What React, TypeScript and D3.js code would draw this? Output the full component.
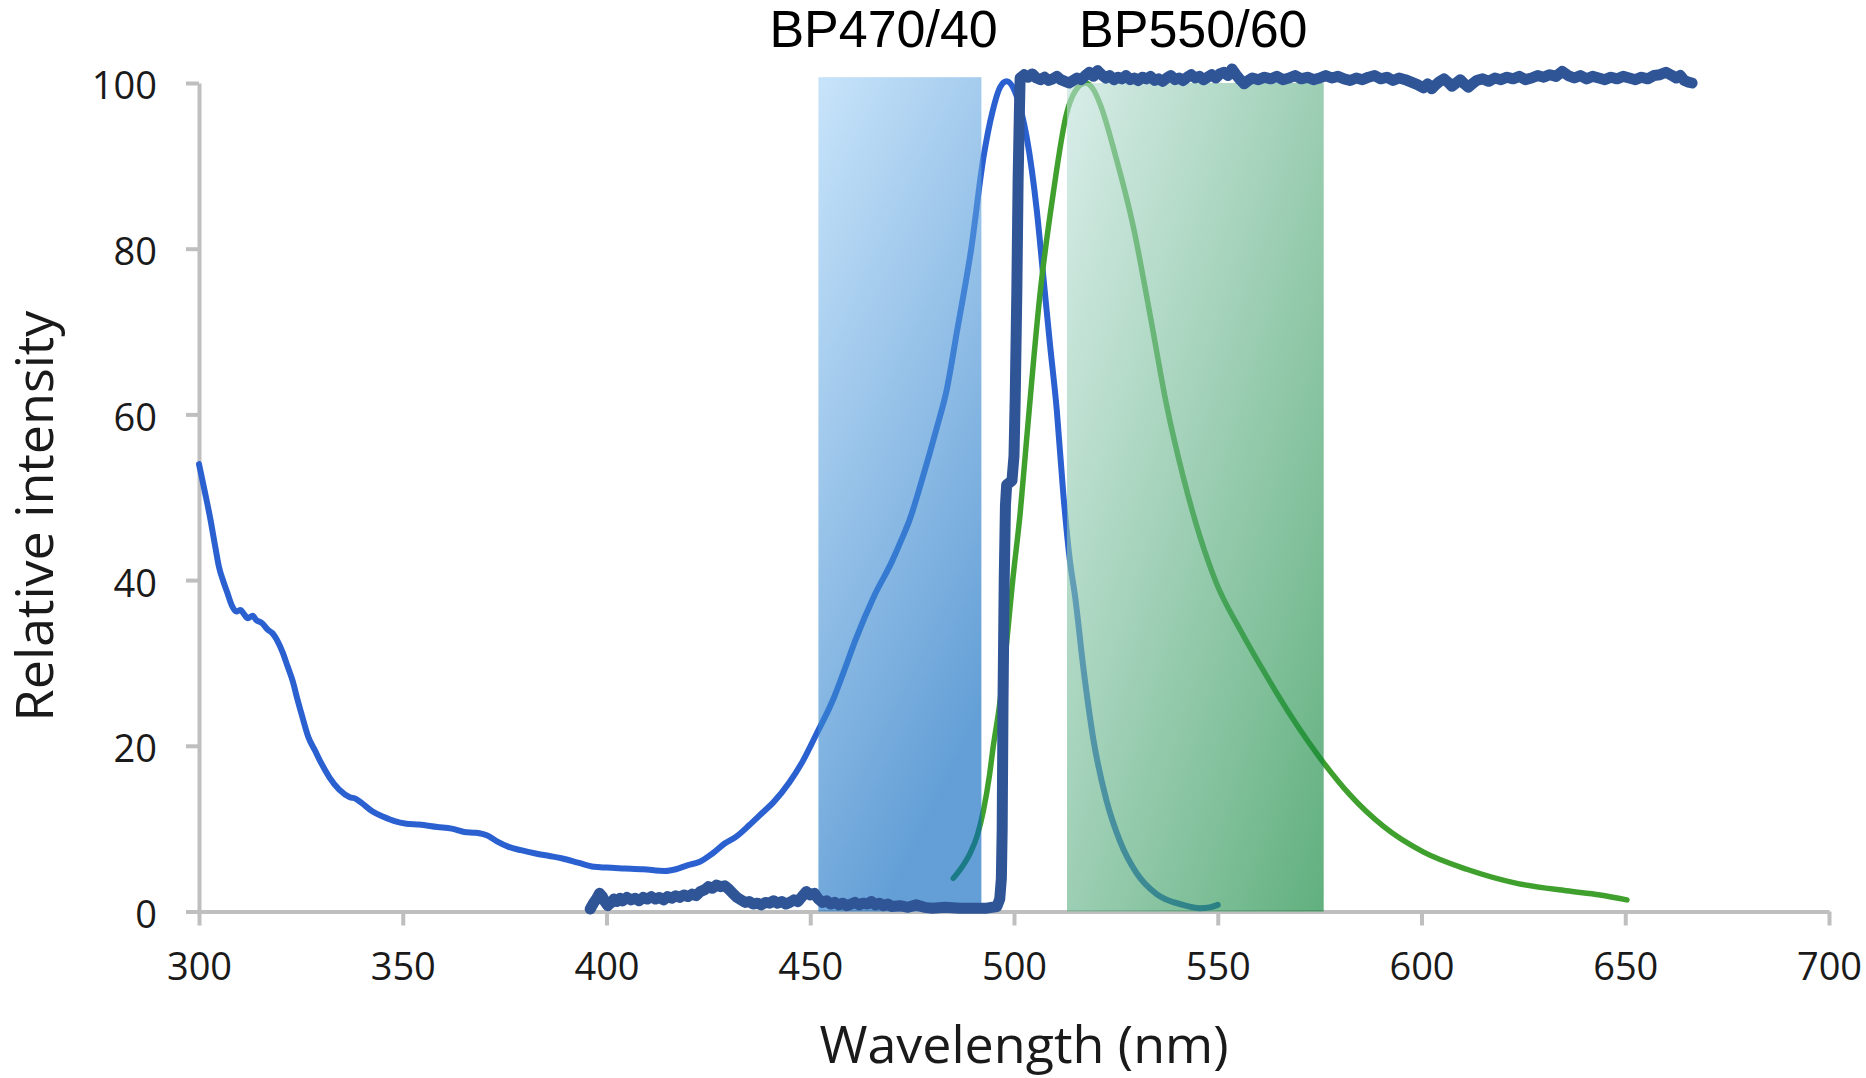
import { useEffect, useRef } from 'react';
import * as d3 from 'd3';

const X_TICKS = [300, 350, 400, 450, 500, 550, 600, 650, 700];
const Y_TICKS = [0, 20, 40, 60, 80, 100];

// excitation spectrum
const EXC_NM = [300, 301.5, 302.7, 304, 304.9, 306, 307, 308, 309.2, 310.2, 310.9, 312, 313.2, 314, 315.5, 316.9, 318, 319.1, 320.5, 321.8, 323, 324, 325.3, 326.8, 328.5, 330, 332, 334.4, 337, 338.5, 339.9, 342.5, 345.4, 348, 350.9, 354, 358.5, 362, 365.1, 368, 370.6, 373, 376, 379, 382.6, 386, 389.2, 393, 396.9, 400, 404.5, 409, 414.4, 417, 420, 422.9, 426, 429, 432, 435, 438, 441, 444.9, 448, 451.4, 455.8, 458.5, 461.2, 465.6, 470, 472.5, 474.4, 477.6, 481, 483.5, 486, 489.5, 492.5, 494.7, 496.6, 498.2, 500.2, 501.8, 503.1, 505.6, 507.2, 508.8, 510.5, 512.1, 513.7, 515, 517, 519.5, 522.7, 526, 530, 535, 541.5, 545.6, 548, 550];
const EXC_VAL = [54.0, 50.5, 47.6, 44.0, 41.6, 39.8, 38.4, 37.0, 36.2, 36.4, 36.0, 35.4, 35.7, 35.2, 34.8, 34.0, 33.6, 32.8, 31.3, 29.5, 27.8, 25.9, 23.6, 21.1, 19.4, 17.9, 16.2, 14.7, 13.8, 13.6, 13.1, 12.1, 11.4, 10.9, 10.6, 10.5, 10.2, 10.0, 9.6, 9.5, 9.2, 8.5, 7.8, 7.4, 7.0, 6.7, 6.4, 5.9, 5.4, 5.3, 5.2, 5.1, 4.9, 5.1, 5.6, 6.0, 7.0, 8.2, 9.1, 10.4, 11.8, 13.2, 15.6, 18.0, 21.3, 25.8, 29.3, 32.9, 38.0, 42.2, 45.0, 47.3, 52.4, 58.3, 63.0, 70.0, 80.0, 91.0, 96.5, 99.5, 100.2, 99.0, 96.5, 93.5, 84.6, 76.6, 68.6, 60.5, 50.4, 42.4, 38.0, 29.5, 20.7, 13.4, 8.5, 4.7, 2.1, 0.8, 0.4, 0.5, 0.8];

// emission spectrum
const EMI_NM = [485.1, 487, 489.2, 491, 492.5, 494, 494.9, 496.2, 497.4, 499.8, 501.5, 503.1, 506.4, 509.6, 512.9, 515, 517.5, 519.5, 521.1, 525.2, 529.3, 533.4, 537.5, 541.5, 545.6, 549.7, 555.5, 562, 568.5, 575.9, 582.4, 590.6, 600.4, 611.1, 623.4, 635.6, 643.8, 650.4];
const EMI_VAL = [4.0, 5.2, 7.0, 9.2, 12.2, 16.5, 19.9, 24.0, 28.7, 40.5, 48.0, 57.0, 74.6, 86.6, 96.3, 99.0, 100.0, 99.2, 97.5, 90.7, 82.6, 72.0, 61.0, 52.5, 45.3, 39.6, 34.0, 28.4, 23.2, 18.0, 14.1, 10.3, 7.2, 5.1, 3.4, 2.5, 2.0, 1.4];

// dichroic transmission
const TRANS_NM = [396, 396.8, 397.5, 398.3, 399, 399.6, 400.3, 401, 401.8, 402.5, 403.3, 404, 405, 406, 407, 408, 409, 410, 411, 412, 413, 414, 415, 416, 417, 418, 419, 420, 421, 422, 423, 424, 425, 426, 427, 428, 429, 430, 431, 432, 433, 434, 435, 436, 437, 438, 439, 440, 441, 442, 443, 444, 445, 446, 447, 448, 449, 450, 451, 452, 453, 454, 455, 456, 457, 458, 459, 460, 461, 462, 463, 464, 465, 466, 467, 468, 469, 470, 472, 474, 476, 478, 480, 483, 486.7, 490, 493.3, 495.8, 496.5, 496.9, 497.1, 497.3, 497.6, 497.9, 498.2, 499.5, 500.0, 500.3, 500.7, 501.0, 501.3, 501.5, 502.5, 503.5, 504.5, 505.5, 506.5, 507.5, 508.5, 509.5, 510.5, 511.5, 512.5, 513.5, 514.5, 515.5, 516.5, 517.5, 518.5, 519.5, 520.5, 521.5, 522.5, 523.5, 524.5, 525.5, 526.5, 527.5, 528.5, 529.5, 530.5, 531.5, 532.5, 533.5, 534.5, 535.5, 536.5, 537.5, 538.5, 539.5, 540.5, 541.5, 542.5, 543.5, 544.5, 545.5, 546.5, 547.5, 548.5, 549.5, 550.5, 551.5, 552.5, 553.5, 554.5, 555.5, 556.5, 557.5, 558.5, 560, 561.5, 563, 564.5, 566, 567.5, 569, 570.5, 572, 573.5, 575, 576.5, 578, 579.5, 581, 582.5, 584, 585.5, 587, 588.5, 590, 591.5, 593, 594.5, 596, 597.5, 599, 600.5, 601.5, 602.5, 603.5, 604.5, 605.5, 606.5, 607.5, 608.5, 609.5, 610.5, 611.5, 612.5, 613.5, 615, 616.5, 618, 619.5, 621, 622.5, 624, 625.5, 627, 628.5, 630, 631.5, 633, 634.5, 636, 637.5, 639, 640.5, 642, 643.5, 645, 646.5, 648, 649.5, 651, 652.5, 654, 655.5, 657, 658.5, 660, 661.5, 662.5, 663.5, 664.5, 665.5, 666.4];
const TRANS_VAL = [0.3, 1.0, 1.5, 2.2, 1.8, 1.2, 0.7, 1.0, 1.5, 1.2, 1.6, 1.3, 1.7, 1.4, 1.6, 1.3, 1.7, 1.5, 1.8, 1.5, 1.7, 1.4, 1.8, 1.6, 1.9, 1.7, 2.0, 1.8, 2.1, 1.9, 2.4, 2.6, 3.0, 2.8, 3.2, 3.0, 3.1, 2.7, 2.2, 1.7, 1.4, 1.1, 1.2, 0.9, 1.0, 0.8, 1.1, 1.0, 1.3, 1.0, 1.2, 0.9, 1.1, 1.4, 1.2, 1.8, 2.4, 2.0, 2.2, 1.5, 1.1, 1.3, 0.9, 1.1, 0.8, 1.0, 0.7, 0.9, 1.1, 0.8, 1.0, 0.9, 1.2, 0.8, 1.0, 0.7, 0.9, 0.6, 0.7, 0.5, 0.8, 0.5, 0.4, 0.5, 0.4, 0.4, 0.4, 0.6, 1.5, 4.0, 10.0, 25.0, 40.0, 49.0, 51.5, 52.0, 55.0, 62.0, 75.0, 88.0, 96.0, 100.6, 101.0, 100.7, 101.1, 100.6, 100.4, 100.7, 100.3, 100.5, 100.8, 100.4, 100.2, 100.0, 100.3, 100.6, 100.4, 100.9, 101.3, 100.8, 101.5, 101.0, 100.6, 100.9, 100.4, 100.7, 100.5, 100.9, 100.4, 100.6, 100.3, 100.7, 100.5, 100.8, 100.3, 100.5, 100.2, 100.6, 100.9, 100.4, 100.6, 100.3, 100.7, 101.0, 100.6, 100.8, 100.4, 100.7, 101.0, 100.6, 101.1, 101.3, 100.9, 101.7, 101.0, 100.4, 99.9, 100.3, 100.6, 100.4, 100.7, 100.5, 100.8, 100.4, 100.6, 100.9, 100.5, 100.7, 100.4, 100.6, 100.9, 100.6, 100.8, 100.5, 100.3, 100.6, 100.4, 100.7, 100.9, 100.5, 100.7, 100.3, 100.6, 100.4, 100.1, 99.8, 99.4, 99.9, 99.3, 99.8, 100.2, 100.5, 100.1, 99.6, 100.0, 100.4, 99.9, 99.5, 99.9, 100.3, 100.5, 100.2, 100.6, 100.4, 100.7, 100.5, 100.8, 100.4, 100.6, 100.9, 100.7, 101.0, 100.8, 101.4, 100.9, 100.6, 100.9, 100.5, 100.8, 100.6, 100.4, 100.7, 100.5, 100.8, 100.6, 100.4, 100.7, 100.5, 100.9, 101.0, 101.3, 100.9, 100.6, 100.9, 100.3, 100.1, 100.0];

// band-pass filters
const FILTER_NAMES = ['BP470/40', 'BP550/60'];
const FILTER_LO = [452, 513];
const FILTER_HI = [492, 576];
const FILTER_TOP = [100.7, 100];
const FILTER_LABEL_NM = [468, 544];

const W = 1866;
const H = 1078;

export default function App() {
  const svgRef = useRef<SVGSVGElement>(null);

  useEffect(() => {
    const svg = d3.select(svgRef.current);
    svg.selectAll('*').remove();

    const x = d3.scaleLinear().domain([300, 700]).range([199, 1829]);
    const y = d3.scaleLinear().domain([0, 100]).range([911.5, 83]);

    const defs = svg.append('defs');
    const gradBlue = defs.append('linearGradient').attr('id', 'bandBlue')
      .attr('x1', 0).attr('y1', 0).attr('x2', 0.4).attr('y2', 1);
    gradBlue.append('stop').attr('offset', 0).attr('stop-color', 'rgb(166,211,247)');
    gradBlue.append('stop').attr('offset', 1).attr('stop-color', 'rgb(4,100,189)');
    const gradGreen = defs.append('linearGradient').attr('id', 'bandGreen')
      .attr('x1', 0).attr('y1', 0).attr('x2', 1).attr('y2', 1);
    gradGreen.append('stop').attr('offset', 0).attr('stop-color', 'rgb(192,226,219)');
    gradGreen.append('stop').attr('offset', 1).attr('stop-color', 'rgb(0,127,47)');

    // axes
    const axisFont = "'Open Sans', 'Noto Sans', sans-serif";
    const gx = svg.append('g').attr('transform', `translate(0,${y(0)})`)
      .call(d3.axisBottom(x).tickValues(X_TICKS).tickSize(14).tickSizeOuter(0).tickPadding(28));
    const gy = svg.append('g').attr('transform', `translate(${x(300)},0)`)
      .call(d3.axisLeft(y).tickValues(Y_TICKS).tickSize(13).tickSizeOuter(0).tickPadding(29));
    [gx, gy].forEach(g => {
      g.select('.domain').attr('stroke', '#bfbfbf').attr('stroke-width', 4);
      g.selectAll('.tick line').attr('stroke', '#bfbfbf').attr('stroke-width', 4);
      g.selectAll('.tick text').attr('fill', '#1a1a1a').attr('font-size', 38).attr('font-family', axisFont);
    });
    gy.selectAll('.tick text').attr('dy', '0.42em');

    const line = d3.line<[number, number]>().x(d => x(d[0])).y(d => y(d[1]));
    const exc = EXC_NM.map((n, i) => [n, EXC_VAL[i]] as [number, number]);
    const emi = EMI_NM.map((n, i) => [n, EMI_VAL[i]] as [number, number]);
    const trans = TRANS_NM.map((n, i) => [n, TRANS_VAL[i]] as [number, number]);

    svg.append('path').attr('d', line.curve(d3.curveMonotoneX)(exc))
      .attr('fill', 'none').attr('stroke', '#2b60d1').attr('stroke-width', 6)
      .attr('stroke-linejoin', 'round').attr('stroke-linecap', 'round');
    svg.append('path').attr('d', line.curve(d3.curveMonotoneX)(emi))
      .attr('fill', 'none').attr('stroke', '#3fa02e').attr('stroke-width', 5.5)
      .attr('stroke-linejoin', 'round').attr('stroke-linecap', 'round');

    // filter bands, semi-transparent over the spectra
    FILTER_NAMES.forEach((name, i) => {
      svg.append('rect')
        .attr('x', x(FILTER_LO[i])).attr('y', y(FILTER_TOP[i]))
        .attr('width', x(FILTER_HI[i]) - x(FILTER_LO[i]))
        .attr('height', y(0) - y(FILTER_TOP[i]))
        .attr('fill', i === 0 ? 'url(#bandBlue)' : 'url(#bandGreen)')
        .attr('fill-opacity', 0.62);
    });

    svg.append('path').attr('d', line.curve(d3.curveLinear)(trans))
      .attr('fill', 'none').attr('stroke', '#2f5597').attr('stroke-width', 11)
      .attr('stroke-linejoin', 'round').attr('stroke-linecap', 'round');

    // filter names
    FILTER_NAMES.forEach((name, i) => {
      svg.append('text').attr('x', x(FILTER_LABEL_NM[i])).attr('y', 47)
        .attr('text-anchor', 'middle').attr('font-size', 52)
        .attr('font-family', "'Liberation Sans', Arial, sans-serif").attr('fill', '#000')
        .text(name);
    });

    // axis titles
    svg.append('text').attr('transform', 'translate(53,516) rotate(-90)')
      .attr('text-anchor', 'middle').attr('font-size', 52).attr('font-family', axisFont)
      .attr('fill', '#1a1a1a').text('Relative intensity');
    svg.append('text').attr('x', 1024).attr('y', 1063)
      .attr('text-anchor', 'middle').attr('font-size', 52).attr('font-family', axisFont)
      .attr('fill', '#1a1a1a').text('Wavelength (nm)');
  }, []);

  return (
    <svg ref={svgRef} width={W} height={H}
      style={{ position: 'absolute', left: 0, top: 0, background: '#fff' }} />
  );
}
